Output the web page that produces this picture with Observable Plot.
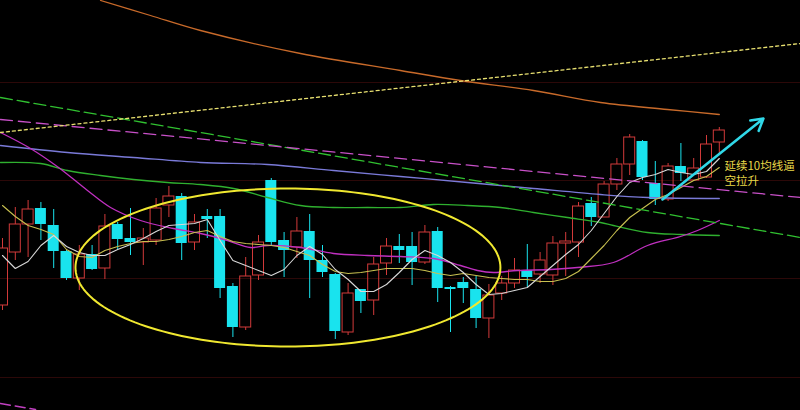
<!DOCTYPE html>
<html><head><meta charset="utf-8">
<script src="https://cdn.jsdelivr.net/npm/d3@7"></script>
<script src="https://cdn.jsdelivr.net/npm/@observablehq/plot@0.6"></script>
<style>html,body{margin:0;padding:0;background:#000;overflow:hidden}#chart svg{display:block}</style>
</head><body><div id="chart"></div>
<script>
// Candles (index 0..56), prices in arbitrary chart units
const openP  = [10.5,15.8,18.6,20.2,18.5,15.9,13.2,15.6,14.2,18.6,17.2,16.8,17.0,20.5,21.4,16.8,19.4,19.4,12.4,8.3,13.5,23.0,17.0,16.3,17.9,15.0,13.6,7.8,12.1,11.0,14.7,16.4,16.4,14.8,17.9,12.3,12.8,12.1,9.2,11.7,12.7,14.0,13.6,13.5,16.7,16.8,20.7,19.3,22.6,24.6,26.9,22.7,21.1,24.4,23.0,23.3,26.8];
const closeP = [16.2,18.6,20.1,18.6,15.9,13.2,15.6,14.1,18.4,17.1,16.8,17.2,20.2,21.4,16.7,18.8,19.1,12.2,8.3,13.4,16.8,16.8,16.0,17.9,15.0,13.8,7.9,11.7,10.9,14.6,16.4,16.0,14.8,17.8,12.2,12.1,12.2,9.2,11.5,12.7,14.0,13.3,15.0,16.7,16.9,20.4,19.3,22.6,24.6,27.3,23.3,21.1,24.4,23.7,24.2,26.6,28.0];
const highP  = [17.2,20.3,21.0,20.8,20.1,16.1,16.5,16.5,19.6,18.8,20.2,18.2,21.2,22.4,21.7,19.6,20.1,20.1,12.7,15.3,17.5,23.2,17.8,19.3,19.6,16.5,13.7,12.7,12.1,15.3,17.2,17.6,17.8,18.5,18.3,12.4,13.3,13.4,12.6,13.4,15.2,16.6,15.8,17.4,17.8,20.8,21.3,22.9,25.2,27.6,27.0,24.9,24.7,26.7,25.2,27.5,28.3];
const lowP   = [10.0,15.0,15.3,17.0,14.2,13.0,12.0,14.0,13.1,16.1,15.5,14.5,16.5,19.3,15.0,16.0,17.2,11.2,7.3,8.0,13.0,16.5,13.3,15.2,11.2,13.3,7.1,7.5,9.7,9.5,13.5,14.7,12.5,14.6,10.8,7.8,10.7,8.2,7.2,11.0,12.2,12.3,12.7,12.5,13.4,15.3,18.4,19.3,22.0,23.5,23.0,20.5,20.9,22.9,22.9,23.2,25.5];

// Moving averages
const ma5  = [15.5,14.2,14.9,16.5,17.5,16.4,15.8,15.5,15.5,16.1,16.6,17.2,17.9,18.5,18.6,18.7,19.1,17.0,15.0,14.5,14.0,13.5,14.1,15.5,16.4,15.6,14.1,13.1,11.9,11.9,12.6,13.8,15.1,16.0,15.5,14.8,13.8,12.6,11.6,11.7,12.0,12.3,13.4,14.5,15.6,16.6,18.0,19.7,21.4,22.8,23.3,23.6,24.1,23.8,23.6,23.9,25.2];
const ma10 = [20.5,19.4,18.5,18.1,17.6,16.1,15.4,15.3,16.0,16.4,16.7,16.9,16.9,17.1,17.4,17.8,18.0,17.4,16.9,16.7,16.6,16.5,16.3,15.9,15.5,14.6,13.9,13.7,13.8,14.0,14.2,14.2,14.2,14.0,13.7,13.5,13.7,13.5,13.3,13.2,13.1,13.1,12.9,12.9,13.2,13.9,15.2,16.5,18.0,19.3,20.2,21.1,21.6,22.3,23.0,23.4,24.3];
const ma20 = [[-0.16,27.8],[2.19,26.2],[4.38,24.3],[6.64,22.0],[8.44,20.3],[10.78,19.0],[13.36,18.2],[15.47,17.7],[17.58,17.0],[19.38,16.3],[20.7,16.5],[23.28,16.3],[25.86,15.7],[28.52,15.5],[31.09,15.4],[33.67,15.2],[35.78,14.5],[37.11,14.0],[38.36,13.8],[40.23,14.0],[42.81,14.1],[44.92,14.3],[47.73,14.8],[50.39,16.5],[52.97,17.4],[54.3,18.0],[56.0,19.0]];
const ma30 = [[-0.16,24.8],[2.97,24.7],[5.08,24.0],[7.66,23.5],[10.23,23.1],[12.89,22.8],[15.47,22.6],[18.05,22.2],[20.7,21.3],[23.28,20.5],[25.86,20.3],[28.52,20.3],[31.09,20.3],[33.67,20.6],[36.33,20.5],[38.91,20.3],[41.48,19.8],[44.14,19.3],[46.72,18.8],[47.73,18.5],[50.39,17.8],[52.97,17.6],[56.0,17.5]];
const ma60 = [[-0.16,26.5],[5.08,25.8],[10.23,25.3],[15.47,24.8],[20.7,24.6],[25.86,24.0],[31.09,23.4],[36.33,22.8],[41.48,22.2],[46.72,21.6],[50.39,21.3],[56.0,21.2]];
const ma120 = [[7.66,41.0],[11.56,39.5],[15.47,38.0],[23.28,35.7],[31.09,34.0],[35.78,33.0],[41.48,32.0],[46.72,30.8],[51.95,30.1],[56.0,29.6]];

// Trend lines
const greenDash   = [[-0.16,31.3],[62.34,17.3]];
const magentaDash = [[-0.16,29.1],[62.34,21.3]];
const yellowDot   = [[-0.16,27.8],[62.34,36.7]];
const lowerDash   = [[-0.16,0.7],[2.58,0.1]];
const gridLevels  = [32.8,23.0,13.2,3.3];

// Annotations
const ellipse = {cx: 22.3, cy: 14.3, rx: 16.6, ry: 7.9};
const arrowSeg = [{x1: 51.56, y1: 21.1, x2: 59.45, y2: 29.2}];
const noteLines = [{x: 56.4, y: 24.4, t: "延续10均线逼"}, {x: 56.4, y: 22.9, t: "空拉升"}];

const RED = "#d23a3a", CYAN = "#19e3ee";
const candles = openP.map((o, i) => ({
  i, open: o, close: closeP[i], high: highP[i], low: lowP[i],
  up: closeP[i] >= o,
  top: Math.max(o, closeP[i]), bot: Math.min(o, closeP[i])
}));
const ups = candles.filter(d => d.up), downs = candles.filter(d => !d.up);
const ellPts = d3.range(0, 361, 2).map(a => [
  ellipse.cx + ellipse.rx * Math.cos(a * Math.PI / 180),
  ellipse.cy + ellipse.ry * Math.sin(a * Math.PI / 180)
]);
const idxSeries = arr => arr.map((v, i) => [i, v]);
const BW = 0.43;

const chart = Plot.plot({
  width: 800, height: 410, margin: 0,
  style: {background: "#000", fontFamily: "'Noto Sans CJK SC', sans-serif"},
  x: {domain: [-0.15625, 62.34375], axis: null},
  y: {domain: [0, 41], axis: null},
  marks: [
    Plot.ruleY(gridLevels, {stroke: "#2c0808", strokeWidth: 1}),
    // wicks
    Plot.ruleX(downs, {x: "i", y1: "low", y2: "high", stroke: CYAN}),
    Plot.ruleX(ups, {x: "i", y1: "top", y2: "high", stroke: RED}),
    Plot.ruleX(ups, {x: "i", y1: "low", y2: "bot", stroke: RED}),
    // bodies
    Plot.rect(downs, {x1: d => d.i - BW, x2: d => d.i + BW, y1: "bot", y2: "top", fill: CYAN}),
    Plot.rect(ups, {x1: d => d.i - BW, x2: d => d.i + BW, y1: "bot", y2: "top", fill: "none", stroke: RED, strokeWidth: 1}),
    // moving averages
    Plot.line(ma120, {curve: "catmull-rom", stroke: "#c86a2a", strokeWidth: 1.3}),
    Plot.line(ma60, {curve: "catmull-rom", stroke: "#7a7ad8", strokeWidth: 1.3}),
    Plot.line(ma30, {curve: "catmull-rom", stroke: "#2fb02f", strokeWidth: 1.3}),
    Plot.line(ma20, {curve: "catmull-rom", stroke: "#c030c0", strokeWidth: 1.3}),
    Plot.line(idxSeries(ma10), {stroke: "#c8c050", strokeWidth: 1.1}),
    Plot.line(idxSeries(ma5), {stroke: "#d8d8d8", strokeWidth: 1.1}),
    // trend lines
    Plot.line(greenDash, {stroke: "#30c030", strokeWidth: 1.3, strokeDasharray: "12,5"}),
    Plot.line(magentaDash, {stroke: "#c850c8", strokeWidth: 1.3, strokeDasharray: "12,6"}),
    Plot.line(yellowDot, {stroke: "#e8e070", strokeWidth: 1.3, strokeDasharray: "3,3"}),
    Plot.line(lowerDash, {stroke: "#c040c0", strokeWidth: 1.5, strokeDasharray: "10,5"}),
    // ellipse annotation
    Plot.line(ellPts, {stroke: "#f0e830", strokeWidth: 2}),
    // arrow
    Plot.arrow(arrowSeg, {x1: "x1", y1: "y1", x2: "x2", y2: "y2", stroke: "#30d8e8", strokeWidth: 2.5, headLength: 8}),
    // note text
    Plot.text(noteLines, {x: "x", y: "y", text: "t", textAnchor: "start", fill: "#e8d848", fontSize: 11.5})
  ]
});
document.getElementById("chart").append(chart);
</script>
</body></html>
